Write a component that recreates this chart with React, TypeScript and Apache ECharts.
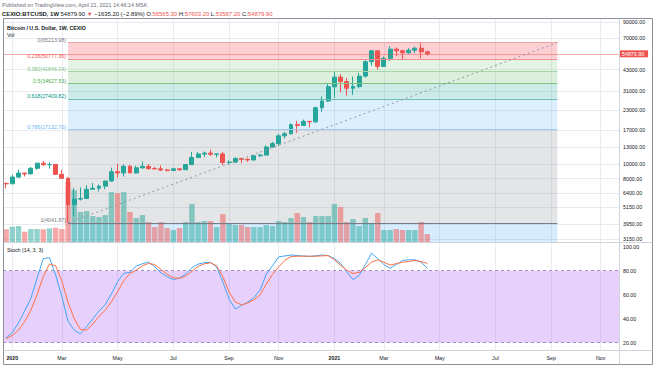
import React, { useEffect, useRef } from 'react';
import * as echarts from 'echarts';

const FONT = '"Liberation Sans", Arial, sans-serif';

// Weekly candles, week index 0 = week of 2019-12-30 (CEXIO:BTCUSD, 1W)
const opens = [7420, 7380, 8190, 8710, 8600, 9370, 10150, 9910, 9960, 8540, 8040, 5360, 5830, 5880, 6780, 6900, 7120, 7700, 8900, 8730, 9680, 8730, 9450, 9670, 9340, 9300, 9140, 9070, 9300, 9170, 9930, 11080, 11680, 11860, 11650, 11700, 10260, 10330, 10930, 10770, 10670, 11380, 11500, 13030, 13740, 15480, 15960, 18400, 18180, 19360, 19200, 23870, 26500, 33000, 38300, 35800, 32290, 33100, 38900, 48600, 57500, 45200, 51200, 59000, 57500, 55800, 58000, 59800, 56565.3];
const highs = [7560, 8470, 9190, 8760, 9570, 10170, 10520, 10280, 9990, 9190, 8180, 6930, 6990, 7220, 7470, 7300, 7750, 9470, 10050, 9950, 9900, 9750, 10420, 10000, 9600, 9800, 9300, 9470, 9350, 10050, 12100, 12050, 12150, 12480, 11800, 12090, 10600, 11100, 10990, 10950, 11500, 11730, 13350, 14100, 15970, 16480, 18800, 19480, 19900, 19420, 24300, 28400, 34800, 41950, 40100, 37850, 38600, 41000, 49700, 58350, 57550, 52600, 61800, 60600, 58500, 60000, 61300, 65213.98, 57603.2];
const lows = [6880, 7350, 8080, 8260, 8560, 9180, 9720, 9330, 8460, 8000, 4041.87, 4480, 5700, 5870, 6770, 6560, 6800, 7650, 8130, 8250, 8820, 8650, 9300, 9150, 9220, 8980, 8930, 9050, 9050, 9130, 9900, 10950, 11150, 11350, 11110, 9880, 9880, 10200, 10150, 10380, 10530, 11200, 11420, 12950, 13250, 14820, 15800, 16220, 18000, 17620, 19000, 22400, 26100, 27800, 30300, 28800, 29200, 32300, 37990, 45600, 43000, 44900, 49200, 53000, 50400, 54800, 55500, 51300, 53587.2];
const closes = [7380, 8190, 8710, 8600, 9370, 10150, 9910, 9960, 8540, 8040, 5360, 5830, 5880, 6780, 6900, 7120, 7700, 8900, 8730, 9680, 8730, 9450, 9670, 9340, 9300, 9140, 9070, 9300, 9170, 9930, 11080, 11680, 11860, 11650, 11700, 10260, 10330, 10930, 10770, 10670, 11380, 11500, 13030, 13740, 15480, 15960, 18400, 18180, 19360, 19200, 23870, 26500, 33000, 38300, 35800, 32290, 33100, 38900, 48600, 57500, 45200, 51200, 59000, 57500, 55800, 58000, 59800, 56565.3, 54879.9];
const volumes = [12.7, 15.3, 16, 10.3, 13, 13, 12.7, 13.7, 14.3, 13, 60, 52, 30, 31, 26, 25, 27, 50, 49, 50, 30, 24, 27, 20, 15, 20, 14, 12, 14, 20, 38, 20, 21, 21, 15, 28, 18, 17, 17, 15, 15, 15, 17, 16, 21, 20, 24, 29, 25, 20, 26, 26, 26, 38, 35, 20, 23, 16, 24, 19, 29, 12, 12, 13, 12, 12, 12, 20, 8];
const stochK = [24, 28.3, 36.5, 46.5, 56.9, 73.7, 90, 90.8, 76.4, 58.3, 37.9, 30.3, 27.4, 33.4, 39.9, 46.3, 51.5, 60.6, 70.8, 77.8, 78.5, 83.8, 85.7, 87.1, 83.2, 78.3, 74.9, 72.5, 73.9, 77.2, 82.5, 85.4, 86.7, 86.9, 83, 70.5, 56.3, 48, 51, 53.7, 57.5, 63.8, 77, 84, 91.5, 92.2, 93, 92.6, 92.2, 91.8, 92.3, 93, 92.5, 90, 86, 79, 72.5, 76, 85, 94.5, 90, 85, 82, 85, 88.5, 89, 89, 87, 82];
const stochD = [23.3, 26, 30.5, 37.5, 47, 60, 75, 85.5, 84, 71.5, 53.5, 40, 31, 30.5, 35.5, 42, 47, 54, 62.5, 71.5, 77.7, 80.3, 84, 86, 85, 81, 77, 74, 73.5, 75.5, 79.5, 83.5, 85.7, 86.5, 84, 75, 62, 54, 51.5, 53, 55.7, 59.7, 68.7, 76.8, 83, 88.6, 91.7, 92, 92, 92, 92, 92.3, 92.5, 89, 84.5, 80.4, 77.6, 78.5, 82.5, 87, 89, 87, 84.6, 85.8, 87, 87.6, 88.5, 87.5, 86];

const monthIdx = [1, 9, 18, 27, 36, 44, 53, 61, 70, 79, 88, 96];
const monthText = ['2020', 'Mar', 'May', 'Jul', 'Sep', 'Nov', '2021', 'Mar', 'May', 'Jul', 'Sep', 'Nov'];

const priceTicks = [90000, 70000, 43000, 31000, 23000, 17000, 13000, 10000, 8000, 6400, 5150, 3950, 3150];
const lastPrice = 54879.9;
const stochTicks = [20, 40, 60, 80, 100];
const stochBands = [20, 80];

const fibLevels = ['0', '0.236', '0.382', '0.5', '0.618', '0.786', '1'];
const fibPrices = [65213.98, 50777.36, 41846.24, 34627.53, 27409.82, 17132.7, 4041.87];
const fibStart = 10;
const fibEnd = 89;

const fibLineColors = ['#f0a3a3', '#f08c8c', '#a5d6a7', '#7cc47f', '#6bbfb1', '#a3cbf2', '#787b86'];
const fibTextColors = ['#787b86', '#ef5350', '#81c784', '#4caf50', '#009688', '#64b5f6', '#787b86'];
const fibZoneColors = ['rgba(242,54,69,0.24)', 'rgba(129,199,132,0.22)', 'rgba(76,175,80,0.2)', 'rgba(0,150,136,0.2)', 'rgba(100,181,246,0.22)', 'rgba(120,123,134,0.2)', 'rgba(33,150,243,0.18)'];

const X_MIN = -0.5;
const X_MAX = 98.95;
const P_MIN = 3007;
const P_MAX = 94660;
const FS = 5.3;
const GRID_LINE = '#e9ebf0';

function buildOption() {
  const upColor = '#26a69a';
  const downColor = '#ef5350';

  const zones: any[] = [];
  for (let k = 1; k < fibPrices.length; k++) {
    zones.push([
      { xAxis: fibStart, yAxis: fibPrices[k - 1], itemStyle: { color: fibZoneColors[k - 1] } },
      { xAxis: fibEnd, yAxis: fibPrices[k] },
    ]);
  }
  zones.push([
    { xAxis: fibStart, yAxis: fibPrices[fibPrices.length - 1], itemStyle: { color: fibZoneColors[6] } },
    { xAxis: fibEnd, yAxis: P_MIN },
  ]);

  const fibLines: any[] = fibPrices.map((p, k) => [
    {
      xAxis: fibStart,
      yAxis: p,
      lineStyle: { color: fibLineColors[k], width: 1, type: 'solid' },
      label: {
        show: true,
        position: 'start',
        distance: 2,
        formatter: `${fibLevels[k]}(${p.toFixed(2)})`,
        color: fibTextColors[k],
        fontSize: FS,
        fontFamily: FONT,
        verticalAlign: 'bottom',
      },
    },
    { xAxis: fibEnd, yAxis: p },
  ]);

  const trend = [
    { xAxis: fibStart, yAxis: fibPrices[6], lineStyle: { color: '#9598a1', width: 1, type: [2, 3] }, label: { show: false } },
    { xAxis: fibEnd, yAxis: fibPrices[0] },
  ];

  const priceLine = {
    yAxis: lastPrice,
    lineStyle: { color: 'rgba(239,83,80,0.45)', width: 1, type: 'solid' },
    label: {
      show: true,
      position: 'end',
      distance: 0,
      formatter: lastPrice.toFixed(2),
      color: '#ffffff',
      backgroundColor: '#ef5350',
      padding: [1, 4, 1, 3],
      fontSize: FS,
      fontFamily: FONT,
    },
  };

  const xLabelFormatter = (v: number) => {
    const r = Math.round(v);
    if (Math.abs(v - r) > 1e-6) return '';
    const k = monthIdx.indexOf(r);
    if (k < 0) return '';
    const t = monthText[k];
    return /^\d{4}$/.test(t) ? `{b|${t}}` : t;
  };

  return {
    animation: false,
    textStyle: { fontFamily: FONT },
    grid: [
      { left: 3, right: 35, top: 18.5, height: 223.5 },
      { left: 3, right: 35, top: 243, height: 107.5 },
    ],
    xAxis: [
      { type: 'value', gridIndex: 0, min: X_MIN, max: X_MAX, interval: 0.5, show: false },
      {
        type: 'value', gridIndex: 1, min: X_MIN, max: X_MAX, interval: 0.5,
        axisLine: { show: false }, axisTick: { show: false }, splitLine: { show: false },
        axisLabel: {
          show: true, margin: 4.5, fontSize: FS, color: '#131722', fontFamily: FONT,
          formatter: xLabelFormatter,
          rich: { b: { fontWeight: 'bold', fontSize: FS, fontFamily: FONT, color: '#131722' } },
        },
      },
    ],
    yAxis: [
      { type: 'log', gridIndex: 0, min: P_MIN, max: P_MAX, show: false },
      { type: 'value', gridIndex: 0, min: 0, max: 224, show: false },
      {
        type: 'value', gridIndex: 1, min: 13.5, max: 103, interval: 0.5, position: 'right',
        axisLine: { show: false }, axisTick: { show: false }, splitLine: { show: false },
        axisLabel: {
          show: true, margin: 4, fontSize: FS, color: '#131722', fontFamily: FONT,
          formatter: (v: number) => {
            const r = Math.round(v);
            return Math.abs(v - r) < 1e-6 && stochTicks.includes(r) ? r.toFixed(2) : '';
          },
        },
      },
    ],
    series: [
      {
        name: 'grid',
        type: 'line',
        xAxisIndex: 0,
        yAxisIndex: 0,
        data: closes.map((c, i) => [i, c]),
        symbol: 'none',
        lineStyle: { opacity: 0 },
        silent: true,
        z: 0,
        markLine: {
          silent: true,
          symbol: ['none', 'none'],
          z: 0,
          data: [
            ...monthIdx.map((i) => ({ xAxis: i, lineStyle: { color: GRID_LINE, width: 1, type: 'solid' }, label: { show: false } })),
            ...priceTicks.map((p) => ({
              yAxis: p,
              lineStyle: { color: GRID_LINE, width: 1, type: 'solid' },
              label: { show: true, position: 'end', distance: 4, formatter: p.toFixed(2), color: '#131722', fontSize: FS, fontFamily: FONT },
            })),
          ],
        },
      },
      {
        name: 'Vol',
        type: 'bar',
        xAxisIndex: 0,
        yAxisIndex: 1,
        barWidth: 5.4,
        silent: true,
        z: 2,
        data: volumes.map((v, i) => ({
          value: [i, v],
          itemStyle: { color: closes[i] >= opens[i] ? 'rgba(38,166,154,0.5)' : 'rgba(239,83,80,0.5)' },
        })),
      },
      {
        name: 'BTCUSD',
        type: 'candlestick',
        xAxisIndex: 0,
        yAxisIndex: 0,
        z: 3,
        barWidth: 4.4,
        encode: { x: 0, y: [1, 2, 3, 4] },
        data: opens.map((o, i) => [i, o, closes[i], lows[i], highs[i]]),
        itemStyle: { color: upColor, color0: downColor, borderColor: upColor, borderColor0: downColor, borderWidth: 1 },
        markArea: { silent: true, z: 1, data: zones },
        markLine: {
          silent: true,
          symbol: ['none', 'none'],
          z: 4,
          data: [...fibLines, trend, priceLine],
        },
      },
      {
        name: '%K',
        type: 'line',
        xAxisIndex: 1,
        yAxisIndex: 2,
        data: stochK.map((v, i) => [i, v]),
        symbol: 'none',
        lineStyle: { color: '#42a5f5', width: 1 },
        z: 3,
        markArea: {
          silent: true,
          z: 1,
          data: [[{ yAxis: stochBands[0], itemStyle: { color: 'rgba(159,71,243,0.25)' } }, { yAxis: stochBands[1] }]],
        },
        markLine: {
          silent: true,
          symbol: ['none', 'none'],
          z: 2,
          label: { show: false },
          data: stochBands.map((b) => ({ yAxis: b, lineStyle: { color: '#a08fc4', width: 1, type: [3, 3] } })),
        },
      },
      {
        name: '%D',
        type: 'line',
        xAxisIndex: 1,
        yAxisIndex: 2,
        data: stochD.map((v, i) => [i, v]),
        symbol: 'none',
        lineStyle: { color: '#ff7043', width: 1 },
        z: 3,
        markLine: {
          silent: true,
          symbol: ['none', 'none'],
          z: 0,
          label: { show: false },
          data: monthIdx.map((i) => ({ xAxis: i, lineStyle: { color: GRID_LINE, width: 1, type: 'solid' } })),
        },
      },
    ],
    graphic: [
      {
        type: 'text', x: 2, y: 5, silent: true,
        style: { text: 'Published on TradingView.com, April 21, 2021 14:46:14 MSK', fontSize: 5.4, fontFamily: FONT, fill: '#6a6d78', verticalAlign: 'middle' },
      },
      {
        type: 'text', x: 2, y: 13.5, silent: true,
        style: {
          text: '{b|CEXIO:BTCUSD, 1W} {n|54879.90} {r|▼} {n|\u22121635.20 (\u22122.89%)} {n|O:}{r|56565.30} {n|H:}{r|57603.20} {n|L:}{r|53587.20} {n|C:}{r|54879.90}',
          fontSize: 5.9, fontFamily: FONT, verticalAlign: 'middle', fill: '#131722',
          rich: {
            b: { fontWeight: 'bold', fontSize: 5.9, fontFamily: FONT, fill: '#131722' },
            n: { fontSize: 5.9, fontFamily: FONT, fill: '#131722' },
            r: { fontSize: 5.9, fontFamily: FONT, fill: '#ef5350' },
          },
        },
      },
      {
        type: 'text', x: 7, y: 28.3, silent: true, z: 10,
        style: { text: 'Bitcoin / U.S. Dollar, 1W, CEXIO', fontSize: 5.3, fontWeight: 'bold', fontFamily: FONT, fill: '#131722', verticalAlign: 'middle' },
      },
      {
        type: 'text', x: 7, y: 34.5, silent: true, z: 10,
        style: { text: 'Vol', fontSize: 5.3, fontFamily: FONT, fill: '#131722', verticalAlign: 'middle' },
      },
      {
        type: 'text', x: 7, y: 249.5, silent: true, z: 10,
        style: { text: 'Stoch (14, 3, 3)', fontSize: 5.3, fontFamily: FONT, fill: '#131722', verticalAlign: 'middle' },
      },
      {
        type: 'rect', silent: true, z: 10,
        shape: { x: 3.5, y: 18.5, width: 649, height: 346 },
        style: { fill: 'none', stroke: '#8e9099', lineWidth: 1 },
      },
      {
        type: 'line', silent: true, z: 10,
        shape: { x1: 3.5, y1: 242.5, x2: 652.5, y2: 242.5 },
        style: { stroke: '#d1d4dc', lineWidth: 1 },
      },
      {
        type: 'line', silent: true, z: 10,
        shape: { x1: 3.5, y1: 350.5, x2: 652.5, y2: 350.5 },
        style: { stroke: '#d1d4dc', lineWidth: 1 },
      },
      {
        type: 'line', silent: true, z: 10,
        shape: { x1: 619.5, y1: 18.5, x2: 619.5, y2: 364.5 },
        style: { stroke: '#d1d4dc', lineWidth: 1 },
      },
    ],
  };
}

export default function App() {
  const ref = useRef<HTMLDivElement>(null);
  useEffect(() => {
    if (!ref.current) return;
    const chart = echarts.init(ref.current, null, { renderer: 'svg' });
    chart.setOption(buildOption() as any);
    return () => {
      chart.dispose();
    };
  }, []);
  return (
    <div
      ref={ref}
      style={{ position: 'fixed', left: 0, top: 0, width: 654, height: 366, background: '#ffffff' }}
    />
  );
}
